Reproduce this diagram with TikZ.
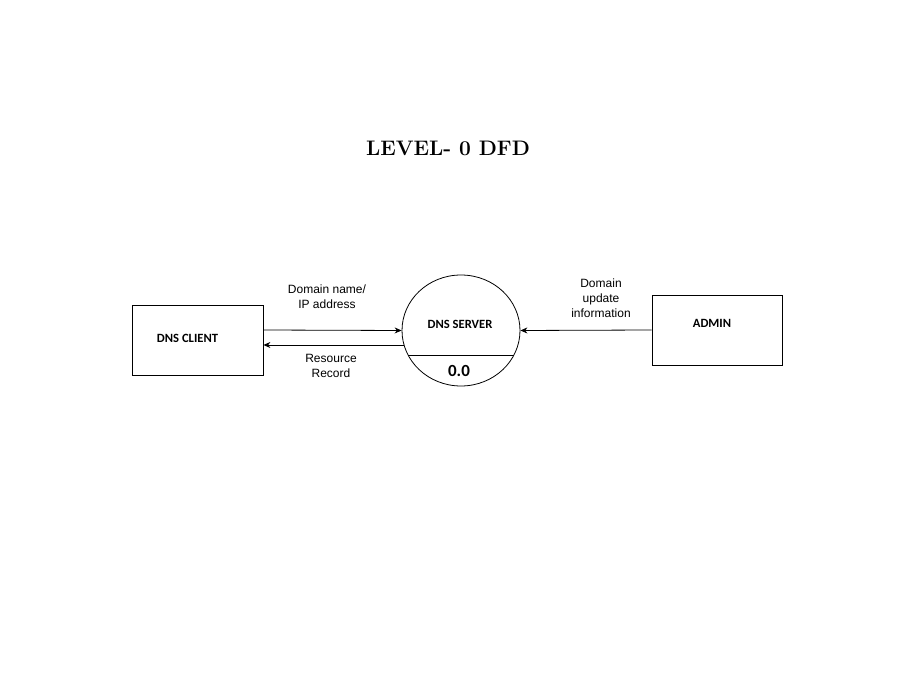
\documentclass[tikz,border=0pt]{standalone}
\usepackage{fontspec}
\setmainfont{Latin Modern Roman}
\newfontfamily\lblfont{Liberation Sans}
\newfontfamily\boxfont{Carlito}
\usetikzlibrary{shapes.geometric,arrows.meta,calc}
\begin{document}
\begin{tikzpicture}[x=1pt,y=1pt,
  entity/.style={draw,line width=0.8pt,minimum width=131pt,minimum height=70pt,inner sep=0pt},
  proc/.style={draw,ellipse,line width=0.8pt,minimum width=118pt,minimum height=111pt,inner sep=0pt},
  boxtext/.style={font=\boxfont\bfseries\fontsize{12.6}{14}\selectfont,inner sep=0pt},
  flowlbl/.style={font=\lblfont\fontsize{12}{15}\selectfont,align=center,inner sep=0pt},
  flow/.style={line width=0.8pt,-{Stealth[length=7pt,width=6pt]}}]
\useasboundingbox (0,0) rectangle (923,683);
\node[font=\bfseries\fontsize{21}{25}\selectfont,inner sep=0pt] (title) at (448,535) {LEVEL- 0 DFD};
\node[entity] (client) at (197.5,343) {};
\node[boxtext] (clienttxt) at (187.5,345) {DNS CLIENT};
\node[entity,minimum width=130pt] (admin) at (717,353) {};
\node[boxtext] (admintxt) at (712,360) {ADMIN};
\node[proc] (srv) at (461,352.5) {};
\node[boxtext] (srvtxt) at (460,359) {DNS SERVER};
\node[font=\boxfont\bfseries\fontsize{17}{20}\selectfont,inner sep=0pt] (num) at (459,312) {0.0};
\draw[line width=0.8pt] ($(srv.center)+(-53,-24.5)$) -- ($(srv.center)+(53,-24.5)$);
\coordinate (c1) at ([yshift=10pt]client.east);
\coordinate (c2) at ([yshift=-5pt]client.east);
\coordinate (s2) at ([shift={(2pt,-14.5pt)}]srv.west);
\draw[flow] (c1) -- (srv.west);
\draw[flow] (s2) -- (c2);
\draw[flow] (admin.west) -- (srv.east);
\node[flowlbl] (l1) at (327,386) {Domain name/\\IP address};
\node[flowlbl] (l2) at (331,317) {Resource\\Record};
\node[flowlbl] (l3) at (601,385) {Domain\\update\\information};
\end{tikzpicture}
\end{document}
